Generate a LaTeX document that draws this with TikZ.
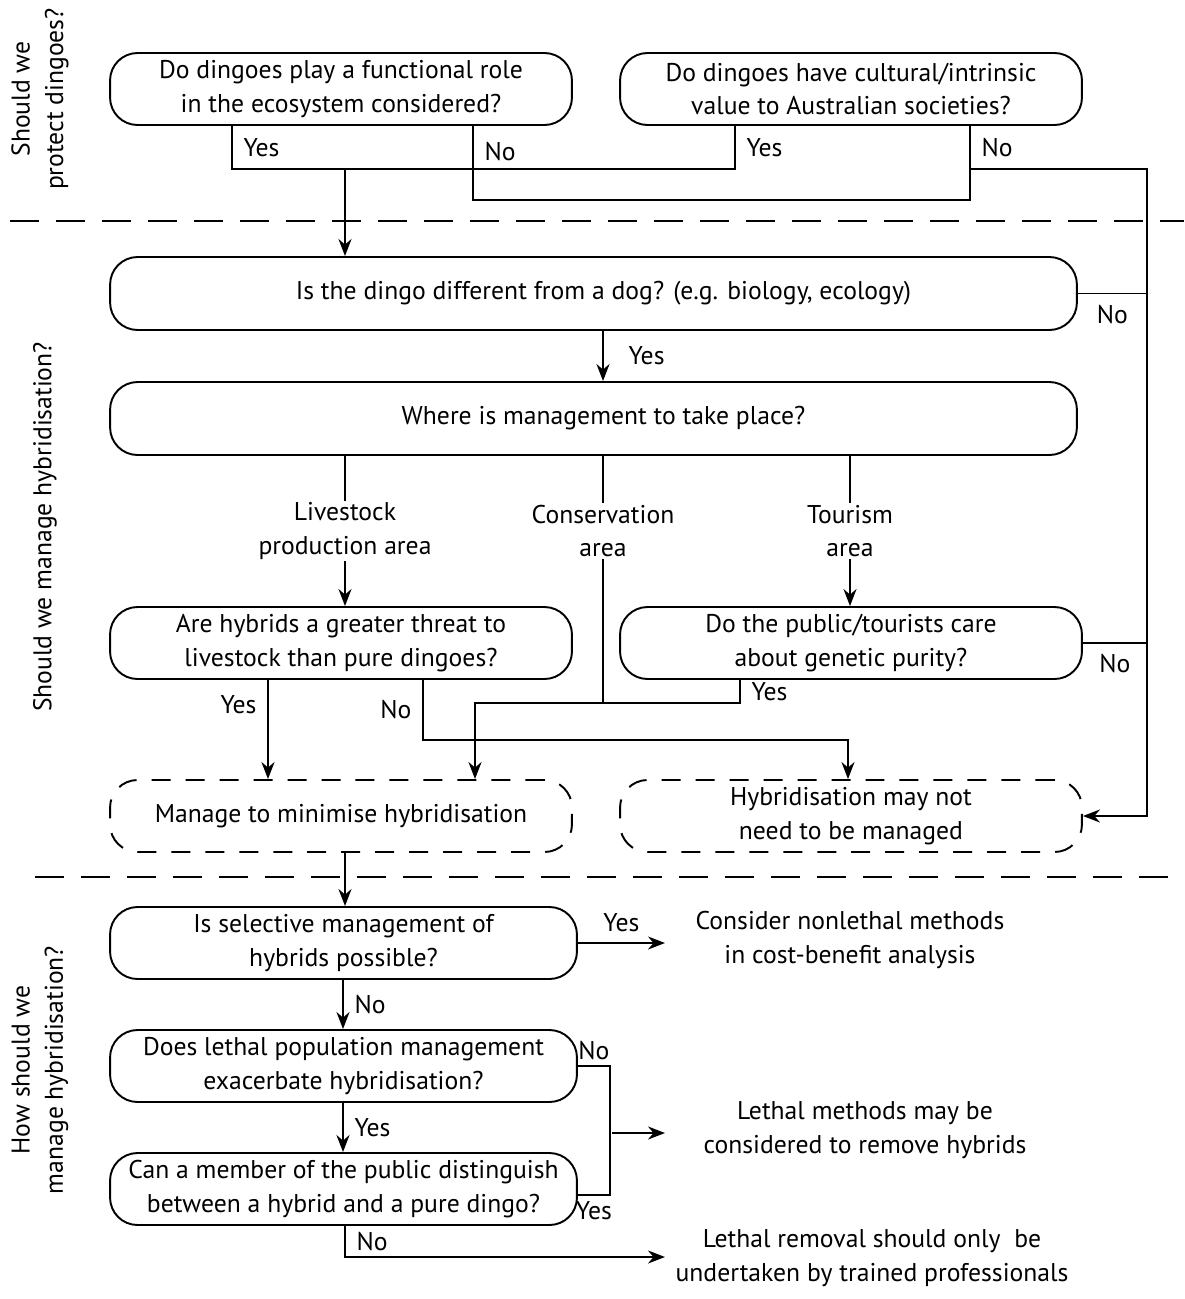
\documentclass[tikz,border=0pt]{standalone}
\usepackage{fontspec}
\setmainfont{PT Sans}
\usetikzlibrary{arrows.meta}
\tikzset{
  every node/.style={font=\fontsize{14.6}{19}\selectfont},
  box/.style={draw, rounded corners=0.55cm, line width=1.1pt, align=center,
    minimum width=9.24cm, minimum height=1.44cm, inner sep=2pt},
  endbox/.style={box, dash pattern=on 0.38cm off 0.3cm},
  txt/.style={align=center, inner sep=1pt},
  yn/.style={inner sep=6pt},
  link/.style={line width=1.1pt},
  arr/.style={link, -{Stealth[length=3.4mm,width=2.6mm]}},
  sep/.style={line width=1.1pt, dash pattern=on 0.58cm off 0.34cm}
}
\begin{document}
\begin{tikzpicture}[x=0.02cm, y=-0.02cm]
    \useasboundingbox (0,0) rectangle (1184,1299);

    % Section labels and separators
    \node[txt, rotate=90] (sprotect) at (40,99) {Should we\\protect dingoes?};
    \node[txt, rotate=90] (smanage) at (45,527) {Should we manage hybridisation?};
    \node[txt, rotate=90] (show) at (40,1070) {How should we\\manage hybridisation?};
    \draw[sep] (10,221) -- (1184,221);
    \draw[sep] (35,877) -- (1184,877);

    % Should we protect dingoes?
    \node[box] (qfunc) at (341,89) {Do dingoes play a functional role\\in the ecosystem considered?};
    \node[box] (qcult) at (851,89) {Do dingoes have cultural/intrinsic\\value to Australian societies?};

    % Should we manage hybridisation?
    \node[box, minimum width=19.34cm, minimum height=1.46cm] (qdog) at (593.5,293.5) {\hspace{0.4cm}Is the dingo different from a dog? (e.g. biology, ecology)};
    \node[box, minimum width=19.34cm, minimum height=1.46cm] (qwhere) at (593.5,418.5) {\hspace{0.4cm}Where is management to take place?};
    \node[txt] (livestock) at (345,531) {Livestock\\production area};
    \node[txt] (conservation) at (603,531) {Conservation\\area};
    \node[txt] (tourism) at (850,531) {Tourism\\area};
    \node[box] (qlive) at (341,643) {Are hybrids a greater threat to\\livestock than pure dingoes?};
    \node[box] (qtour) at (851,643) {Do the public/tourists care\\about genetic purity?};
    \node[endbox] (rmin) at (341,816) {Manage to minimise hybridisation};
    \node[endbox] (rnot) at (851,816) {Hybridisation may not\\need to be managed};

    % How should we manage hybridisation?
    \node[box, minimum width=9.34cm] (qsel) at (343.5,943) {Is selective management of\\hybrids possible?};
    \node[box, minimum width=9.34cm] (qlethal) at (343.5,1066) {Does lethal population management\\exacerbate hybridisation?};
    \node[box, minimum width=9.34cm] (qpublic) at (343.5,1189) {Can a member of the public distinguish\\between a hybrid and a pure dingo?};
    \node[txt] (tnonlethal) at (850,940) {Consider nonlethal methods\\in cost-benefit analysis};
    \node[txt] (tlethal) at (865,1130) {Lethal methods may be\\considered to remove hybrids};
    \node[txt] (tremoval) at (872,1258) {Lethal removal should only\ \ be\\undertaken by trained professionals};
    \coordinate (nonlethalin) at (665,943);
    \coordinate (lethalin) at (665,1133);
    \coordinate (removalin) at (665,1257);

    % Connectors, top
    \draw[link] (232,0 |- qfunc.south) -- node[yn,right]{Yes} (232,169) -| node[yn,right,pos=0.75]{Yes} (735,0 |- qcult.south);
    \draw[arr] (345,169) -- (345,0 |- qdog.north);
    \draw[link] (473,0 |- qfunc.south) -- node[yn,right,pos=0.35]{No} (473,200) -| (970,0 |- qcult.south);
    \draw[arr] (970,0 |- qcult.south) -- node[yn,right]{No} (970,169) -- (1147,169) -- (1147,0 |- rnot.east) -- (rnot.east);

    % Connectors, middle
    \draw[link] (qdog.east) -- node[yn,below]{No} (1147,0 |- qdog.east);
    \draw[arr] (603,0 |- qdog.south) -- node[yn,right=8pt]{Yes} (603,0 |- qwhere.north);
    \draw[link] (345,0 |- qwhere.south) -- (livestock.north);
    \draw[link] (603,0 |- qwhere.south) -- (conservation.north);
    \draw[link] (850,0 |- qwhere.south) -- (tourism.north);
    \draw[arr] (livestock.south) -- (345,0 |- qlive.north);
    \draw[arr] (tourism.south) -- (850,0 |- qtour.north);
    \draw[link] (conservation.south) -- (603,703);
    \draw[arr] (740,0 |- qtour.south) -- node[yn,right]{Yes} (740,703) -- (475,703) -- (475,0 |- rmin.north);
    \draw[arr] (268,0 |- qlive.south) -- node[yn,left,pos=0.25]{Yes} (268,0 |- rmin.north);
    \draw[arr] (423,0 |- qlive.south) -- node[yn,left]{No} (423,740) -| (848,0 |- rnot.north);
    \draw[link] (qtour.east) -- node[yn,below]{No} (1147,0 |- qtour.east);

    % Connectors, bottom
    \draw[arr] (345,0 |- rmin.south) -- (345,0 |- qsel.north);
    \draw[arr] (qsel.east) -- node[yn,above]{Yes} (nonlethalin);
    \draw[arr] (343,0 |- qsel.south) -- node[yn,right]{No} (343,0 |- qlethal.north);
    \draw[arr] (343,0 |- qlethal.south) -- node[yn,right]{Yes} (343,0 |- qpublic.north);
    \draw[link] (qlethal.east) -- node[yn,above,inner sep=3pt]{No} (610,0 |- qlethal.east) -- (610,1195) -- node[yn,below,inner sep=3pt]{Yes} (qpublic.east |- 0,1195);
    \draw[arr] (612,0 |- lethalin) -- (lethalin);
    \draw[arr] (345,0 |- qpublic.south) -- node[yn,right]{No} (345,1257) -- (removalin);
\end{tikzpicture}
\end{document}
